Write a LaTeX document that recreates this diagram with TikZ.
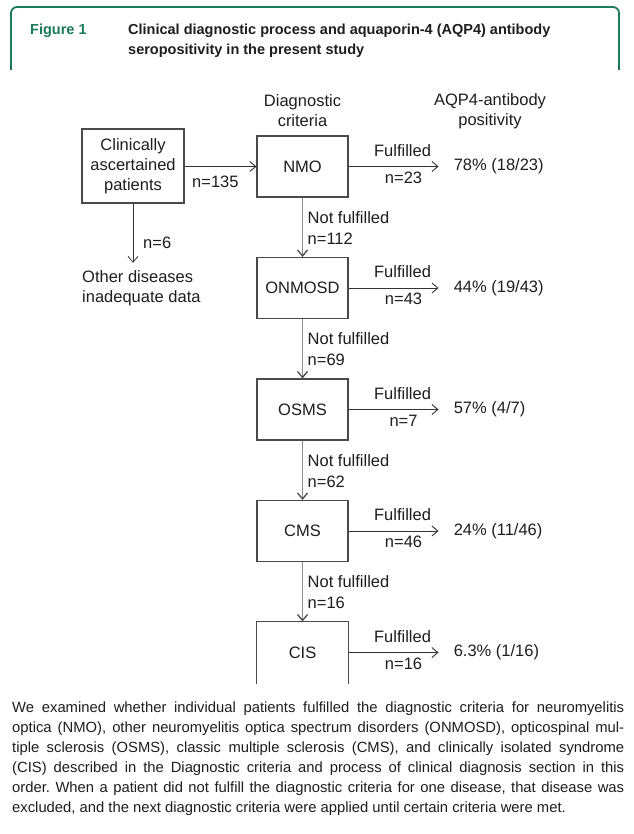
\documentclass[tikz,border=0pt]{standalone}
\usepackage{fontspec}
\setmainfont{Liberation Sans}
\newfontfamily\capfont{Liberation Sans}
\newfontfamily\titlefont{Liberation Sans}
\usetikzlibrary{arrows.meta,calc}
\definecolor{framegreen}{HTML}{1B7A57}
\definecolor{boxgray}{HTML}{4A4A4A}
\definecolor{vgray}{HTML}{8C8C8C}
\definecolor{txt}{HTML}{1E1E1E}
\frenchspacing
\begin{document}
\begin{tikzpicture}[x=1pt,y=-1pt,
  every node/.style={text=txt, font=\fontsize{16.5}{20}\selectfont},
  critbox/.style={draw=boxgray, line width=1.1pt, minimum width=91pt, minimum height=61pt, inner sep=0pt},
  harrow/.style={draw=black!80, line width=0.9pt, -{Straight Barb[length=6pt,width=10pt]}},
  varrow/.style={draw=vgray, line width=1.3pt, -{Straight Barb[length=6pt,width=10pt,color=black!70]}},
  lbl/.style={inner sep=0pt},
]
\useasboundingbox (0,0) rectangle (633,834);
\fill[white] (0,0) rectangle (633,834);

% header frame
\draw[framegreen, line width=1.8pt, rounded corners=6pt] (11,70) |- (619,7) -- (619,70);
\node[anchor=base west, inner sep=0pt, text=framegreen, font=\titlefont\bfseries\fontsize{14.5}{20}\selectfont] (fig) at (30,35) {Figure 1};
\node[anchor=base west, inner sep=0pt, font=\titlefont\bfseries\fontsize{14.5}{20}\selectfont] (title1) at (128,35) {Clinical diagnostic process and aquaporin-4 (AQP4) antibody};
\node[anchor=base west, inner sep=0pt, font=\titlefont\bfseries\fontsize{14.5}{20}\selectfont] (title2) at (128,55) {seropositivity in the present study};

% column headings
\node[lbl, align=center] (hdiag) at (302.5,111) {Diagnostic\\criteria};
\node[lbl, align=center] (haqp) at (490,111) {AQP4-antibody\\positivity};

% left box
\node[draw=boxgray, line width=1.1pt, minimum width=102pt, minimum height=74pt, inner sep=0pt, align=center] (clin) at (133,166) {Clinically\\ascertained\\patients};
\coordinate (other) at (133,263);
\node[lbl, anchor=west, align=left] (othertxt) at (82,288.5) {Other diseases\\inadequate data};
\draw[varrow, draw=black!80, line width=0.9pt] (clin.south) -- (other);
\node[lbl, anchor=west] (n6) at (143,243) {n=6};

% criteria boxes
\node[critbox] (nmo) at (302.5,166.5) {NMO};
\node[critbox] (onm) at (302.5,288) {ONMOSD};
\node[critbox] (osms) at (302.5,409.5) {OSMS};
\node[critbox] (cms) at (302.5,531) {CMS};
\node[critbox, draw=none] (cis) at (302.5,652.5) {CIS};
\draw[boxgray, line width=1.1pt] (cis.south west) -- (cis.north west) -- (cis.north east) -- (cis.south east);

\draw[harrow] (clin.east |- nmo.west) -- (nmo.west);
\node[lbl, anchor=west] (n135) at (192,182) {n=135};

% fulfilled arrows and results
\foreach \b/\n/\r in {nmo/23/{78\% (18/23)}, onm/43/{44\% (19/43)}, osms/7/{57\% (4/7)}, cms/46/{24\% (11/46)}, cis/16/{6.3\% (1/16)}}{
  \coordinate (\b-end) at ($(\b.east)+(90,0)$);
  \draw[harrow] (\b.east) -- (\b-end);
  \node[lbl] (\b-ful) at ($(\b.east)+(54,-16)$) {Fulfilled};
  \node[lbl] (\b-n) at ($(\b.east)+(55,11)$) {n=\n};
  \node[lbl, anchor=west] (\b-res) at ($(\b-end)+(15,0)$) {\r};
}

% not fulfilled arrows
\foreach \a/\b/\n in {nmo/onm/112, onm/osms/69, osms/cms/62, cms/cis/16}{
  \draw[varrow] (\a.south) -- (\b.north);
  \node[lbl, anchor=west] (\a-nf) at ($(\a.south)+(5,20)$) {Not fulfilled};
  \node[lbl, anchor=west] (\a-nn) at ($(\a.south)+(5,41)$) {n=\n};
}

% caption
\node[anchor=north west, inner sep=0pt, align=left, font=\capfont\fontsize{14.8}{19.9}\selectfont] (cap) at (12,702) {%
\makebox[612pt][s]{We examined whether individual patients fulfilled the diagnostic criteria for neuromyelitis}\\
\makebox[612pt][s]{optica (NMO), other neuromyelitis optica spectrum disorders (ONMOSD), opticospinal mul-}\\
\makebox[612pt][s]{tiple sclerosis (OSMS), classic multiple sclerosis (CMS), and clinically isolated syndrome}\\
\makebox[612pt][s]{(CIS) described in the Diagnostic criteria and process of clinical diagnosis section in this}\\
\makebox[612pt][s]{order. When a patient did not fulfill the diagnostic criteria for one disease, that disease was}\\
excluded, and the next diagnostic criteria were applied until certain criteria were met.};
\end{tikzpicture}
\end{document}
